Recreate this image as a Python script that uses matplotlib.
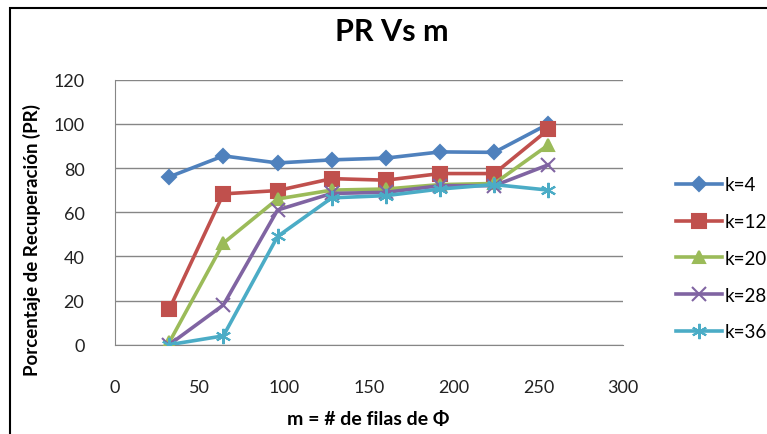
import matplotlib.pyplot as plt
from matplotlib.patches import Rectangle

plt.rcParams['font.family'] = ['Lato', 'DejaVu Sans']

# m values (rows of Phi)
m = [32, 64, 96, 128, 160, 192, 224, 256]

# PR for each k
pr_k4 = [76, 85.5, 82.3, 83.7, 84.5, 87.3, 87.1, 100]
pr_k12 = [16, 68.3, 69.8, 75.2, 74.5, 77.5, 77.5, 97.5]
pr_k20 = [1, 46, 66, 70, 70.5, 72.5, 73, 90.5]
pr_k28 = [0, 18, 61, 68.5, 69, 72, 72, 81.5]
pr_k36 = [0, 4, 49, 66.5, 67.5, 70.5, 72.5, 70]

labels = ['k=4', 'k=12', 'k=20', 'k=28', 'k=36']
colors = ['#4F81BD', '#C0504D', '#9BBB59', '#8064A2', '#4BACC6']
markers = ['D', 's', '^', 'x', (6, 2, 0)]
msizes = [7, 10, 9, 10, 11]

fig = plt.figure(figsize=(7.67, 4.35), dpi=100)
ax = fig.add_axes([115/767, 1 - 345.7/435, (623-115)/767, (345.7-80.7)/435])

series = [pr_k4, pr_k12, pr_k20, pr_k28, pr_k36]
for vals, lab, c, mk, ms in zip(series, labels, colors, markers, msizes):
    ax.plot(m, vals, color=c, lw=2.6, marker=mk, markersize=ms,
            markeredgewidth=1.5, label=lab, zorder=3)

ax.set_xlim(0, 300)
ax.set_ylim(0, 120)
ax.set_xticks(range(0, 301, 50))
ax.set_yticks(range(0, 121, 20))
ax.grid(axis='y', color='#868686', lw=1)
ax.set_axisbelow(True)
for s in ['top', 'right']:
    ax.spines[s].set_visible(False)
ax.spines['left'].set_color('#868686')
ax.spines['bottom'].set_color('#868686')
ax.tick_params(length=0, labelsize=13, colors='#222222')
ax.tick_params(axis='y', pad=22)
ax.tick_params(axis='x', pad=25)

fig.text(32/767, 1 - 240/435, 'Porcentaje de Recuperación (PR)', fontsize=13.5,
         fontweight='bold', rotation=90, ha='center', va='center')
fig.text(368/767, 1 - 420/435, 'm = # de filas de Φ', fontsize=14,
         fontweight='bold', ha='center', va='center')
fig.text(392/767, 1 - 32/435, 'PR Vs m', fontsize=22, fontweight='bold',
         ha='center', va='center')

fig.legend(loc='upper left', bbox_to_anchor=(668/767, 1 - 170/435),
           frameon=False, fontsize=13.5, labelspacing=1.05, handlelength=2.5,
           handletextpad=0.1, borderaxespad=0)

# outer chart border
fig.patches.append(Rectangle((10/767, -0.1), 1.2, 1 - 9/435 + 0.1,
                             transform=fig.transFigure, fill=False,
                             edgecolor='black', lw=1.5))

fig.savefig('out.png', dpi=100)
